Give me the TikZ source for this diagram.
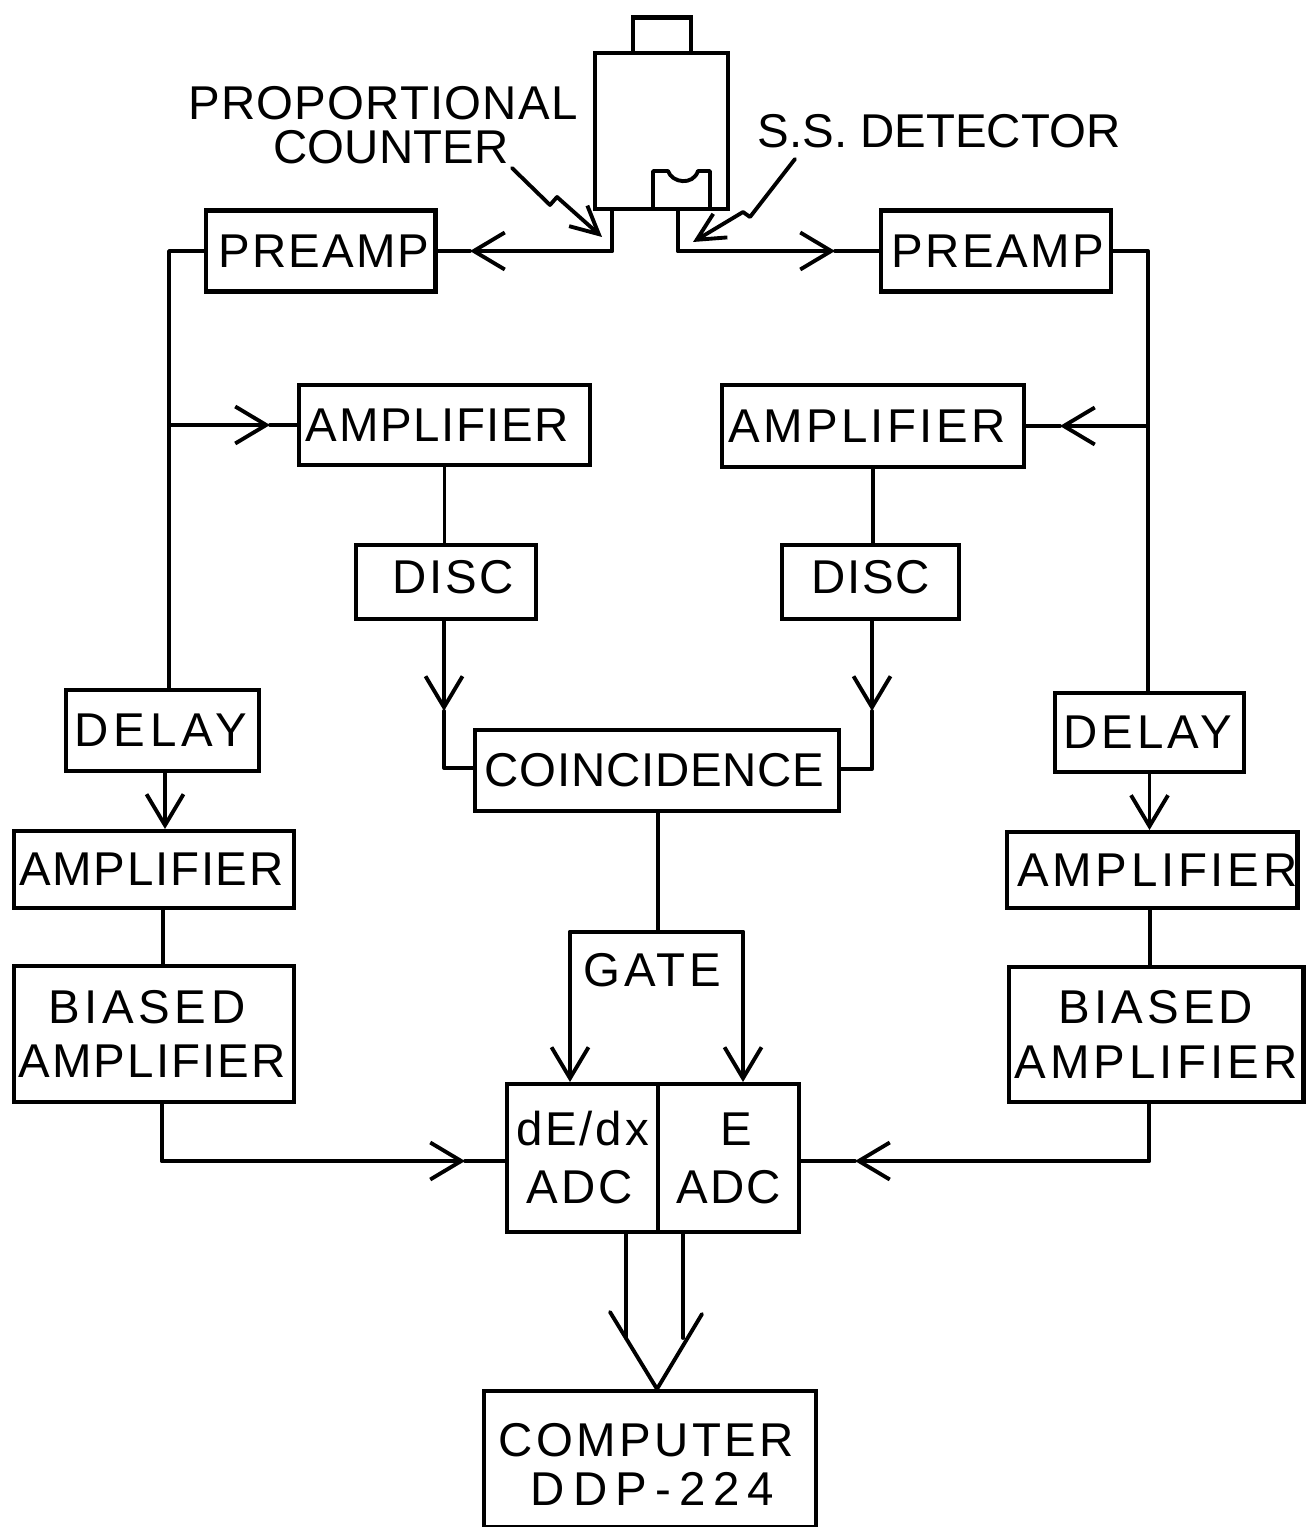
\documentclass[tikz,border=0pt]{standalone}
\usepackage{fontspec}
\setmainfont{Liberation Sans}
\usetikzlibrary{arrows.meta}
\newcommand{\lsp}[2]{{\addfontfeature{LetterSpace=#1}#2}}
\tikzset{
  block/.style={rectangle,draw,line width=2.3pt,inner sep=0pt,font=\fontsize{27}{32}\selectfont,align=center},
  tag/.style={inner sep=0pt,font=\fontsize{27}{32}\selectfont,align=center},
  spaced/.style={font=\fontsize{27}{32}\selectfont\addfontfeature{LetterSpace=#1}},
  wire/.style={line width=2.2pt,line cap=round,line join=round},
  barb/.style={wire,-{Straight Barb[length=0.62cm,width=0.74cm,line width=2.2pt]}},
  smallbarb/.style={wire,-{Straight Barb[length=0.55cm,width=0.55cm,line width=2.2pt]}},
}
\begin{document}
\begin{tikzpicture}[x=0.02cm,y=-0.02cm]
  \useasboundingbox (0,0) rectangle (1305,1527);
  % detector
  \node[block,minimum width=1.16cm,minimum height=0.72cm] (cap) at (662,35.5) {};
  \node[block,fill=white,minimum width=2.66cm,minimum height=3.12cm] (body) at (661.5,131) {};
  \draw[wire] (653,209) -- (653,171) -- (668,171)
    .. controls (672,183) and (693,186) .. (698,171) -- (710,171) -- (710,209);
  \coordinate (wireL) at (612,251);
  \coordinate (wireR) at (678,251);
  \coordinate (bodyL) at (wireL |- body.south);
  \coordinate (bodyR) at (wireR |- body.south);
  % top labels
  \node[tag,spaced=2.5] (propL) at (383,103) {PROPORTIONAL};
  \node[tag] (countL) at (391,147) {COUNTER};
  \node[tag] (ssL) at (939,131) {S.S. DETECTOR};
  \coordinate (propA) at (512,168);
  \coordinate (propB) at (602,237);
  \coordinate (ssA) at (795,159);
  \coordinate (ssB) at (693,242);
  \draw[smallbarb] (propA) -- (550,205) -- (557,197) -- (propB);
  \draw[smallbarb] (ssA) -- (750,217) -- (743,212) -- (ssB);
  % blocks
  \node[block,spaced=4.2,minimum width=4.6cm,minimum height=1.62cm] (preampL) at (320.5,251) {\hspace*{4pt}PREAMP};
  \node[block,spaced=5.5,minimum width=4.6cm,minimum height=1.62cm] (preampR) at (996,251) {\hspace*{2pt}PREAMP};
  \node[block,spaced=3.4,minimum width=5.82cm,minimum height=1.6cm] (ampL) at (444.5,425) {AMPLIFIER\hspace*{8pt}};
  \node[block,spaced=7,minimum width=6.04cm,minimum height=1.64cm] (ampR) at (873,426) {AMPLIFIER\hspace*{7pt}};
  \node[block,spaced=5.6,text depth=5.7pt,minimum width=3.6cm,minimum height=1.48cm] (discL) at (446,582) {\hspace*{8pt}DISC};
  \node[block,spaced=3.5,text depth=5.7pt,minimum width=3.54cm,minimum height=1.48cm] (discR) at (870.5,582) {DISC};
  \node[block,spaced=10.5,minimum width=3.86cm,minimum height=1.62cm] (delayL) at (162.5,730.5) {DELAY\hspace*{2pt}};
  \node[block,spaced=8.4,minimum width=3.78cm,minimum height=1.58cm] (delayR) at (1149.5,732.5) {DELAY\hspace*{2pt}};
  \node[block,spaced=1.7,minimum width=7.28cm,minimum height=1.62cm] (coinc) at (657,770.5) {COINCIDENCE\hspace*{3pt}};
  \node[block,spaced=3.7,minimum width=5.6cm,minimum height=1.54cm] (amp3L) at (154,869.5) {AMPLIFIER\hspace*{3pt}};
  \node[block,spaced=7.9,minimum width=5.8cm,minimum height=1.52cm] (amp3R) at (1152,870) {\hspace*{6pt}AMPLIFIER};
  \node[block,minimum width=5.6cm,minimum height=2.72cm] (biasL) at (154,1034) {\lsp{9.7}{BIASED}\hspace*{8pt}\\[-1pt]\lsp{4.5}{AMPLIFIER}\hspace*{2pt}};
  \node[block,spaced=8.5,minimum width=5.9cm,minimum height=2.7cm] (biasR) at (1156,1034.5) {BIASED\\[-1pt]AMPLIFIER};
  \node[block,spaced=6,minimum width=3.02cm,minimum height=2.96cm] (adcL) at (582.5,1158) {dE/dx\\[1pt]ADC\hspace*{3pt}};
  \node[block,spaced=5,minimum width=2.82cm,minimum height=2.96cm] (adcR) at (728.5,1158) {\hspace*{9pt}E\\[1pt]ADC};
  \node[block,text height=53pt,minimum width=6.64cm,minimum height=2.72cm] (comp) at (650,1459) {\lsp{7.2}{COMPUTER}\hspace*{4pt}\\[-4pt]\hspace*{3pt}\lsp{17}{DDP-224}};
  \node[tag,spaced=8.4] (gateT) at (652,970) {GATE};
  % preamps
  \coordinate (preTipL) at (470,251);
  \coordinate (preTipR) at (835,251);
  \draw[wire] (bodyL) -- (wireL);
  \draw[barb] (wireL) -- (preTipL);
  \draw[wire] (preTipL) -- (preampL.east);
  \draw[wire] (bodyR) -- (wireR);
  \draw[barb] (wireR) -- (preTipR);
  \draw[wire] (preTipR) -- (preampR.west);
  % left side
  \coordinate (railLa) at (169,251);
  \coordinate (railLb) at (169,425);
  \coordinate (railLc) at (railLb |- delayL.north);
  \coordinate (ampTipL) at (270,425);
  \draw[wire] (preampL.west) -- (railLa) -- (railLc);
  \draw[barb] (railLb) -- (ampTipL);
  \draw[wire] (ampTipL) -- (ampL.west);
  % right side
  \coordinate (railRa) at (1148,251);
  \coordinate (railRb) at (1148,426);
  \coordinate (railRc) at (railRb |- delayR.north);
  \coordinate (ampTipR) at (1060,426);
  \draw[wire] (preampR.east) -- (railRa) -- (railRc);
  \draw[barb] (railRb) -- (ampTipR);
  \draw[wire] (ampTipR) -- (ampR.east);
  % discriminators
  \coordinate (discTipL) at (444,711);
  \coordinate (discTipR) at (872,711);
  \coordinate (coincL) at (444,768);
  \coordinate (coincR) at (872,769);
  \draw[wire] (ampL.south) -- (ampL.south |- discL.north);
  \draw[wire] (ampR.south) -- (ampR.south |- discR.north);
  \draw[barb] (discTipL |- discL.south) -- (discTipL);
  \draw[barb] (discTipR |- discR.south) -- (discTipR);
  \draw[wire] (discTipL) -- (coincL) -- (coincL -| coinc.west);
  \draw[wire] (discTipR) -- (coincR) -- (coincR -| coinc.east);
  % delays
  \draw[barb] ([xshift=0.05cm]delayL.south) -- ([xshift=0.05cm]delayL.south |- amp3L.north);
  \draw[barb] (delayR.south) -- (delayR.south |- amp3R.north);
  \draw[wire] ([xshift=0.18cm]amp3L.south) -- ([xshift=0.18cm]biasL.north);
  \draw[wire] ([xshift=-0.04cm]amp3R.south) -- ([xshift=-0.04cm]amp3R.south |- biasR.north);
  % gate
  \coordinate (gateTop) at (658,932);
  \coordinate (gateL) at (570,932);
  \coordinate (gateR) at (743,932);
  \draw[wire] (gateTop |- coinc.south) -- (gateTop);
  \draw[wire] (gateL) -- (gateR);
  \draw[barb] (gateL) -- (gateL |- adcL.north);
  \draw[barb] (gateR) -- (gateR |- adcR.north);
  % to the ADCs
  \coordinate (cornerL) at (162,1161);
  \coordinate (cornerR) at (1149,1161);
  \coordinate (adcTipL) at (465,1161);
  \coordinate (adcTipR) at (855,1161);
  \draw[wire] (cornerL |- biasL.south) -- (cornerL);
  \draw[barb] (cornerL) -- (adcTipL);
  \draw[wire] (adcTipL) -- (adcTipL -| adcL.west);
  \draw[wire] (cornerR |- biasR.south) -- (cornerR);
  \draw[barb] (cornerR) -- (adcTipR);
  \draw[wire] (adcTipR) -- (adcTipR -| adcR.east);
  % computer
  \coordinate (compTip) at ([xshift=0.14cm]comp.north);
  \coordinate (barbL) at (610,1312);
  \coordinate (barbR) at (702,1314);
  \coordinate (busL) at (626,1338);
  \coordinate (busR) at (683,1338);
  \draw[wire] (busL |- adcL.south) -- (busL);
  \draw[wire] (busR |- adcR.south) -- (busR);
  \draw[wire] (barbL) -- (compTip) -- (barbR);
\end{tikzpicture}
\end{document}
